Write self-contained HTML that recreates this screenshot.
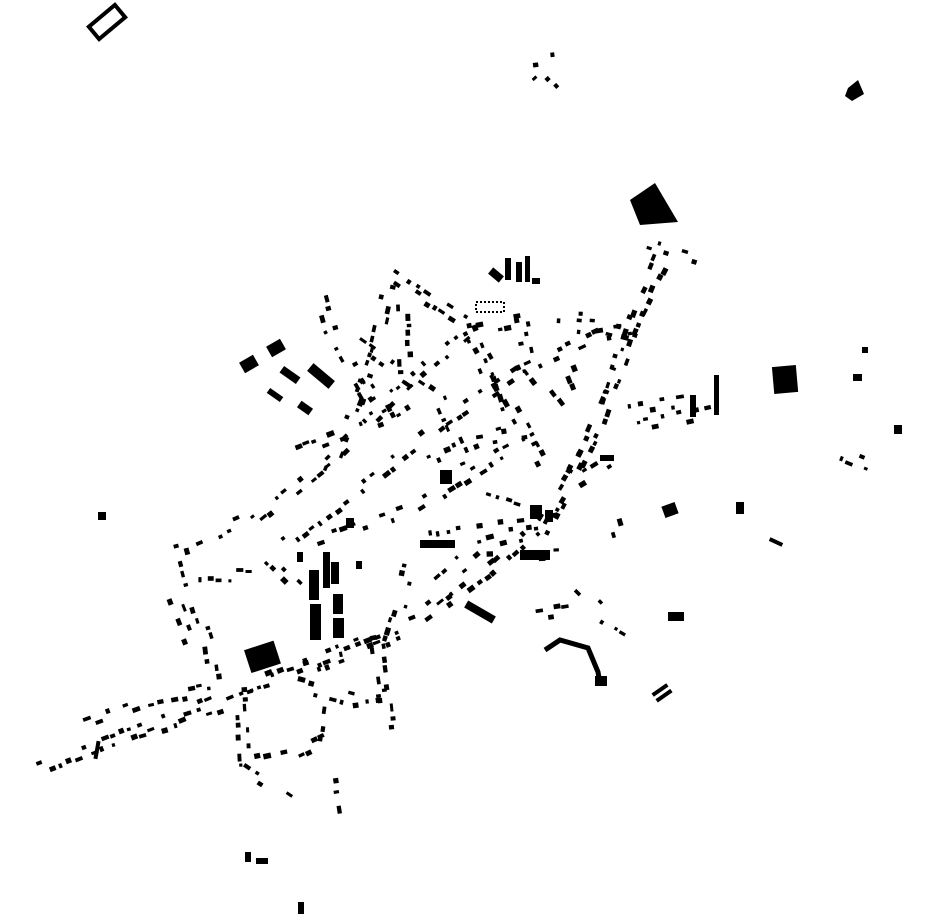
<!DOCTYPE html>
<html><head><meta charset="utf-8"><style>
html,body{margin:0;padding:0;background:#fff;}
svg{display:block;}
</style></head><body>
<svg id="s" width="930" height="924" viewBox="0 0 930 924" xmlns="http://www.w3.org/2000/svg">
<g fill="#000">
<g transform="translate(107,22) rotate(-40)"><rect x="-17" y="-8" width="34" height="16" fill="none" stroke="#000" stroke-width="4"/></g>
<polygon points="848,88 858,80 864,94 852,101 845,96"/>
<polygon points="630,200 655,183 678,222 640,225"/>
<g transform="translate(785,379) rotate(-5)"><rect x="-12" y="-13" width="24" height="27"/></g>
<g transform="translate(262,657) rotate(-18)"><rect x="-15" y="-12" width="31" height="24"/></g>
<rect x="309" y="570" width="10" height="30"/>
<rect x="310" y="604" width="11" height="36"/>
<rect x="323" y="552" width="7" height="36"/>
<rect x="333" y="594" width="10" height="20"/>
<rect x="333" y="618" width="11" height="20"/>
<rect x="331" y="562" width="8" height="22"/>
<g transform="translate(249,364) rotate(-30)"><rect x="-8" y="-6" width="16" height="12"/></g>
<g transform="translate(276,348) rotate(-30)"><rect x="-8" y="-6" width="16" height="12"/></g>
<g transform="translate(321,376) rotate(40)"><rect x="-14" y="-5" width="28" height="10"/></g>
<g transform="translate(290,375) rotate(35)"><rect x="-10" y="-4" width="20" height="8"/></g>
<g transform="translate(275,395) rotate(35)"><rect x="-8" y="-3" width="16" height="6"/></g>
<g transform="translate(305,408) rotate(35)"><rect x="-7" y="-4" width="14" height="8"/></g>
<rect x="505" y="258" width="6" height="22"/><rect x="516" y="262" width="6" height="20"/><rect x="525" y="256" width="5" height="26"/>
<g transform="translate(496,275) rotate(40)"><rect x="-7" y="-4" width="14" height="8"/></g>
<rect x="532" y="278" width="8" height="6"/>
<rect x="476" y="302" width="28" height="10" fill="none" stroke="#000" stroke-width="2" stroke-dasharray="2 2"/>
<rect x="98" y="512" width="8" height="8"/>
<g transform="translate(670,510) rotate(-20)"><rect x="-7" y="-6" width="14" height="12"/></g>
<rect x="736" y="502" width="8" height="12"/>
<g transform="translate(776,542) rotate(25)"><rect x="-7" y="-2" width="14" height="4"/></g>
<rect x="894" y="425" width="8" height="9"/>
<rect x="853" y="374" width="9" height="7"/><rect x="862" y="347" width="6" height="6"/>
<g transform="translate(660,690) rotate(-35)"><rect x="-9" y="-2" width="18" height="4"/><rect x="-9" y="5" width="18" height="4"/></g>
<polyline points="545,650 560,640 588,648 598,672 600,684" fill="none" stroke="#000" stroke-width="5"/>
<rect x="595" y="676" width="12" height="10"/>
<rect x="668" y="612" width="16" height="9"/>
<g transform="translate(480,612) rotate(30)"><rect x="-16" y="-4" width="32" height="8"/></g>
<rect x="297" y="552" width="6" height="10"/>
<rect x="356" y="561" width="6" height="8"/>
<rect x="346" y="518" width="8" height="10"/>
<rect x="440" y="470" width="12" height="14"/>
<rect x="420" y="540" width="35" height="8"/>
<rect x="530" y="505" width="12" height="14"/>
<rect x="545" y="510" width="8" height="12"/>
<rect x="520" y="550" width="30" height="10"/>
<rect x="600" y="455" width="14" height="6"/>
<rect x="690" y="395" width="6" height="22"/>
<rect x="714" y="375" width="5" height="40"/>
<rect x="245" y="852" width="6" height="10"/><rect x="256" y="858" width="12" height="6"/>
<rect x="298" y="902" width="6" height="12"/>
<g transform="translate(97,750) rotate(-80)"><rect x="-9" y="-2" width="18" height="4"/></g>
</g>
<g id="d" fill="#000"></g>
</svg>
<script>
var segs=[
[[30,772],[100,745],[180,715],[240,690]],
[[240,690],[330,655],[420,620],[490,570],[545,520],[575,470],[600,420],[630,330],[660,255]],
[[248,686],[325,662],[405,632]],
[[540,540],[565,490],[590,440],[615,380],[640,310],[670,250]],
[[650,245],[700,260]],
[[255,520],[330,460],[400,390],[470,330],[550,315],[600,318]],
[[280,548],[360,488],[440,425],[520,372],[600,335],[630,330]],
[[320,540],[420,505],[500,455],[560,425]],
[[330,470],[358,400],[375,350],[393,272]],
[[385,270],[430,300],[465,322],[500,385],[530,440],[545,470]],
[[420,290],[450,310]],
[[360,345],[410,380],[440,400],[470,470]],
[[405,372],[403,300]],
[[330,330],[360,385],[380,420]],
[[322,300],[330,330]],
[[470,330],[490,380],[505,430]],
[[520,320],[530,370],[560,410]],
[[575,320],[570,370],[585,410]],
[[430,460],[480,440],[540,430]],
[[300,450],[380,420],[420,395]],
[[180,548],[240,522]],
[[180,545],[195,600],[210,650],[215,690]],
[[175,600],[190,640]],
[[200,575],[250,575]],
[[240,690],[243,730],[245,770],[290,800]],
[[240,765],[300,752],[325,740],[330,705]],
[[300,685],[355,700],[392,695]],
[[340,650],[390,640],[402,600],[410,560]],
[[378,650],[385,700],[390,745]],
[[88,722],[150,700],[200,690]],
[[112,740],[180,720],[225,705]],
[[630,428],[680,418],[715,410]],
[[630,410],[690,400]],
[[540,615],[572,610]],
[[600,625],[625,640]],
[[420,540],[480,530],[560,520]],
[[430,605],[490,558],[560,555]],
[[440,580],[480,545],[520,535]],
[[580,480],[620,455]],
[[535,60],[560,57]],[[538,75],[552,90]],
[[610,330],[630,335]],
[[365,380],[385,410],[395,430]],
[[270,560],[300,590]],
[[340,780],[345,810]],
[[610,505],[620,540]],
[[843,455],[868,465]],
[[490,490],[520,500]],
[[580,590],[600,610]]
];
var seed=7;function r(){seed=(seed*16807)%2147483647;return seed/2147483647;}
var g=document.getElementById('d'),h='';
segs.forEach(function(s){
 for(var i=0;i<s.length-1;i++){
  var a=s[i],b=s[i+1],dx=b[0]-a[0],dy=b[1]-a[1],L=Math.hypot(dx,dy),ang=Math.atan2(dy,dx)*180/Math.PI;
  var nx=-dy/L,ny=dx/L;
  for(var t=0;t<L;t+=7+r()*5){
   if(r()<0.25)continue;
   var side=(r()<0.5?-1:1)*(3+r()*3);
   var x=a[0]+dx*t/L+nx*side,y=a[1]+dy*t/L+ny*side;
   var w=3+r()*5,hh=3+r()*2.5;
   h+='<rect x="'+(-w/2).toFixed(1)+'" y="'+(-hh/2).toFixed(1)+'" width="'+w.toFixed(1)+'" height="'+hh.toFixed(1)+'" transform="translate('+x.toFixed(1)+','+y.toFixed(1)+') rotate('+ang.toFixed(0)+')"/>';
  }
 }
});
g.innerHTML=h;
</script>
</body></html>
